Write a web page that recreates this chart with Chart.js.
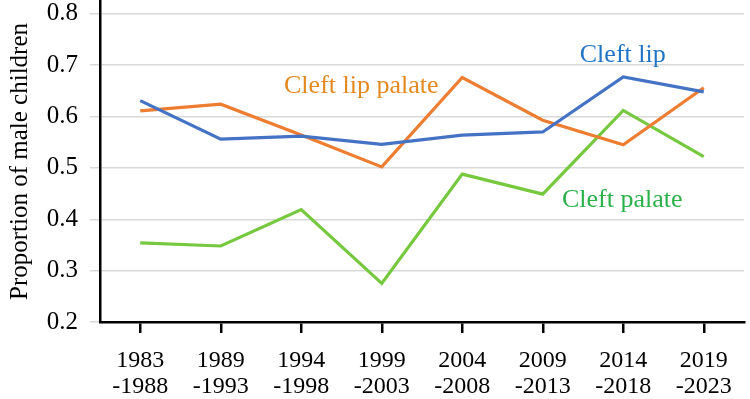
<!DOCTYPE html>
<html>
<head>
<meta charset="utf-8">
<script src="https://cdn.jsdelivr.net/npm/chart.js@4/dist/chart.umd.min.js"></script>
<style>
html,body{margin:0;padding:0;background:#fff;}
#wrap{width:750px;height:399px;position:relative;}
</style>
</head>
<body>
<div id="wrap"><canvas id="c" width="750" height="399"></canvas></div>
<script>
const periodStart = ["1983","1989","1994","1999","2004","2009","2014","2019"];
const periodEnd = ["-1988","-1993","-1998","-2003","-2008","-2013","-2018","-2023"];
const cleftLip = [0.631,0.556,0.562,0.546,0.564,0.570,0.677,0.648];
const cleftLipPalate = [0.611,0.624,0.564,0.502,0.676,0.593,0.545,0.656];
const cleftPalate = [0.354,0.348,0.419,0.275,0.488,0.449,0.612,0.522];
const yTicks = [0.2,0.3,0.4,0.5,0.6,0.7,0.8];
const seriesLabels = [
  {text:"Cleft lip", x:5.46, y:0.706, color:"#1f74c6"},
  {text:"Cleft lip palate", x:1.786, y:0.646, color:"#e3891f"},
  {text:"Cleft palate", x:5.239, y:0.424, color:"#2bb14a"}
];

const FONT = "'Liberation Serif','Times New Roman',serif";

const labelPlugin = {
  id:'seriesLabels',
  afterDatasetsDraw(chart){
    const ctx = chart.ctx, xs = chart.scales.x, ys = chart.scales.y;
    ctx.save();
    ctx.font = "26px " + FONT;
    ctx.textAlign = "left";
    ctx.textBaseline = "alphabetic";
    seriesLabels.forEach(l=>{
      ctx.fillStyle = l.color;
      ctx.fillText(l.text, xs.getPixelForValue(l.x), ys.getPixelForValue(l.y));
    });
    ctx.restore();
  }
};

const labels = periodStart.map((s,i)=>[s, periodEnd[i]]);

new Chart(document.getElementById('c'), {
  type:'line',
  data:{
    labels: labels,
    datasets:[
      {label:"Cleft lip", data:cleftLip, borderColor:"#4472c4", borderWidth:3.2, pointRadius:0, tension:0},
      {label:"Cleft lip palate", data:cleftLipPalate, borderColor:"#ed7d31", borderWidth:3.2, pointRadius:0, tension:0},
      {label:"Cleft palate", data:cleftPalate, borderColor:"#76c93e", borderWidth:3.2, pointRadius:0, tension:0}
    ]
  },
  options:{
    responsive:false,
    animation:false,
    devicePixelRatio:1,
    layout:{padding:{top:1,right:6,left:0,bottom:0}},
    plugins:{legend:{display:false}, tooltip:{enabled:false}},
    scales:{
      x:{
        offset:true,
        grid:{display:true, drawOnChartArea:false, drawTicks:true, tickLength:11, color:"#000", lineWidth:2.5, offset:false},
        border:{display:true, color:"#000", width:2.5},
        ticks:{color:"#000", font:{family:FONT, size:24, lineHeight:1.08}, padding:15, maxRotation:0, autoSkip:false},
        afterFit(s){ s.height = 77; s.paddingLeft = 0; s.paddingRight = 0; }
      },
      y:{
        min:0.2, max:0.825,
        afterBuildTicks(s){ s.ticks = yTicks.map(v=>({value:v})); },
        grid:{color:"#d9d9d9", lineWidth:1.5, drawTicks:true, tickLength:10},
        border:{display:true, color:"#000", width:2.5},
        ticks:{color:"#000", font:{family:FONT, size:25}, padding:12, callback:(v)=>v.toFixed(1)},
        title:{display:true, text:"Proportion of male children", color:"#000", font:{family:FONT, size:25}, padding:{top:5,bottom:0}},
        afterFit(s){ s.width = 100; s.paddingTop = 0; s.paddingBottom = 0; }
      }
    }
  },
  plugins:[labelPlugin]
});
</script>
</body>
</html>
